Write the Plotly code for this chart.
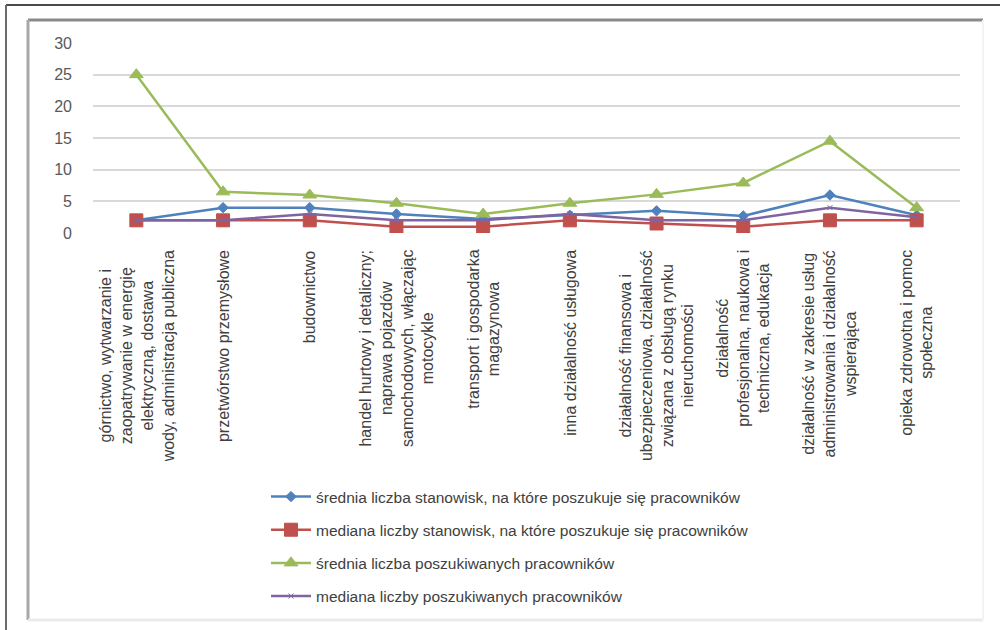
import plotly.graph_objects as go

categories = [
    "górnictwo, wytwarzanie i<br>zaopatrywanie w energię<br>elektryczną, dostawa<br>wody, administracja publiczna",
    "przetwórstwo przemysłowe",
    "budownictwo",
    "handel hurtowy i detaliczny;<br>naprawa pojazdów<br>samochodowych, włączając<br>motocykle",
    "transport i gospodarka<br>magazynowa",
    "inna działalność usługowa",
    "działalność finansowa i<br>ubezpieczeniowa, działalność<br>związana z obsługą rynku<br>nieruchomości",
    "działalność<br>profesjonalna, naukowa i<br>techniczna, edukacja",
    "działalność w zakresie usług<br>administrowania i działalność<br>wspierająca",
    "opieka zdrowotna i pomoc<br>społeczna",
]
cat_ids = [f"c{i}" for i in range(len(categories))]

series_names = [
    "średnia liczba stanowisk, na które poszukuje się pracowników",
    "mediana liczby stanowisk, na które poszukuje się pracowników",
    "średnia liczba poszukiwanych pracowników",
    "mediana liczby poszukiwanych pracowników",
]
srednia_stanowisk = [2, 4, 4, 3, 2.2, 2.8, 3.5, 2.7, 6, 2.8]
mediana_stanowisk = [2, 2, 2, 1, 1, 2, 1.5, 1, 2, 2]
srednia_pracownikow = [25, 6.5, 6, 4.7, 3, 4.7, 6.1, 7.9, 14.5, 4]
mediana_pracownikow = [2, 2, 3, 2, 2, 3, 2, 2, 4, 2.5]

y_ticks = [0, 5, 10, 15, 20, 25, 30]

# layout (pixels)
W, H = 1000, 630
L, R, T, B = 93, 40, 43, 397
PW, PH = W - L - R, H - T - B


def px_x(px):
    return (px - L) / PW


def px_y(py):
    return (H - B - py) / PH


fig = go.Figure()
styles = [
    dict(color="#4F81BD", symbol="diamond", size=8),
    dict(color="#C0504D", symbol="square", size=13),
    dict(color="#9BBB59", symbol="triangle-up", size=12),
    dict(color="#8064A2", symbol="x-thin", size=5),
]
data = [srednia_stanowisk, mediana_stanowisk, srednia_pracownikow, mediana_pracownikow]
for i, (name, vals, st) in enumerate(zip(series_names, data, styles)):
    fig.add_trace(go.Scatter(
        x=cat_ids, y=vals, name=name, mode="lines+markers",
        line=dict(color=st["color"], width=2.5),
        marker=dict(color=st["color"], symbol=st["symbol"], size=st["size"],
                    line=dict(color=st["color"], width=1)),
        legendgroup=f"g{i}",
    ))

annotations = []
for cid, lab in zip(cat_ids, categories):
    annotations.append(dict(
        x=cid, xref="x", y=px_y(248), yref="paper", text=lab, showarrow=False,
        textangle=-90, xanchor="center", yanchor="top", align="center",
        font=dict(family="Liberation Sans", size=16, color="#404040"),
    ))

shapes = [
    # outer frame
    dict(type="line", xref="paper", yref="paper", x0=px_x(6), x1=px_x(1000), y0=px_y(5), y1=px_y(5),
         line=dict(color="#4a4a4a", width=2)),
    dict(type="line", xref="paper", yref="paper", x0=px_x(6), x1=px_x(6), y0=px_y(5), y1=px_y(630),
         line=dict(color="#6a6a6a", width=2)),
    # inner frame
    dict(type="line", xref="paper", yref="paper", x0=px_x(28), x1=px_x(983), y0=px_y(20), y1=px_y(20),
         line=dict(color="#8a8a8a", width=3)),
    dict(type="line", xref="paper", yref="paper", x0=px_x(28), x1=px_x(28), y0=px_y(20), y1=px_y(620),
         line=dict(color="#a8a8a8", width=3)),
    dict(type="line", xref="paper", yref="paper", x0=px_x(28), x1=px_x(983), y0=px_y(620), y1=px_y(620),
         line=dict(color="#ebebeb", width=3)),
    dict(type="line", xref="paper", yref="paper", x0=px_x(983), x1=px_x(983), y0=px_y(20), y1=px_y(620),
         line=dict(color="#f3f3f3", width=2)),
]

fig.update_layout(
    width=W, height=H,
    margin=dict(l=L, r=R, t=T, b=B, autoexpand=False),
    paper_bgcolor="white", plot_bgcolor="white",
    showlegend=True,
    legend=dict(
        x=px_x(266), y=px_y(480), xanchor="left", yanchor="top",
        traceorder="grouped", tracegroupgap=10,
        font=dict(family="Liberation Sans", size=15.5, color="#404040"),
        itemwidth=40,
    ),
    xaxis=dict(
        type="category", categoryorder="array", categoryarray=cat_ids,
        range=[-0.5, len(cat_ids) - 0.5], showticklabels=False,
        showgrid=False, zeroline=False, showline=False, ticks="",
    ),
    yaxis=dict(
        range=[0, 30], tickvals=y_ticks, ticktext=[str(v) for v in y_ticks],
        showgrid=True, gridcolor="#d9d9d9", gridwidth=2,
        zeroline=False, showline=False, ticks="",
        ticklabelstandoff=20,
        tickfont=dict(family="Liberation Sans", size=16, color="#595959"),
    ),
    annotations=annotations,
    shapes=shapes,
)

fig.write_html(
    "out.html",
    config={"displayModeBar": False},
    post_script="document.body.style.margin='0';document.body.style.overflow='hidden';",
)
